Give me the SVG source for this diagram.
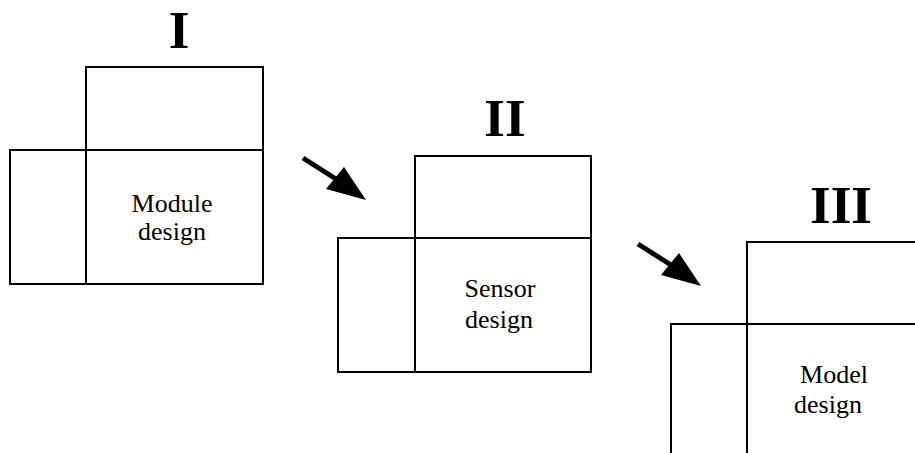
<svg xmlns="http://www.w3.org/2000/svg" width="915" height="453" viewBox="0 0 915 453">
<style>
.box{fill:none;stroke:#000;stroke-width:2}
.num{font-family:"Liberation Serif","Times New Roman",serif;font-weight:bold;font-size:53px;text-anchor:middle;fill:#000}
.lbl{font-family:"Liberation Serif","Times New Roman",serif;font-size:26px;text-anchor:middle;fill:#000}
.shaft{stroke:#000;stroke-width:5;fill:none}
.head{fill:#000}
</style>
<rect width="915" height="453" fill="#fff"/>
<g id="stage1">
<text class="num" x="179" y="47.5">I</text>
<rect class="box" x="86" y="67" width="177" height="83"/>
<rect class="box" x="10" y="150" width="76" height="134"/>
<rect class="box" x="86" y="150" width="177" height="134"/>
<text class="lbl" x="172" y="212">Module</text>
<text class="lbl" x="172" y="240">design</text>
</g>
<g id="stage2">
<text class="num" x="505" y="136">II</text>
<rect class="box" x="415" y="156" width="176" height="82"/>
<rect class="box" x="338" y="238" width="77" height="134"/>
<rect class="box" x="415" y="238" width="176" height="134"/>
<text class="lbl" x="500" y="297">Sensor</text>
<text class="lbl" x="499" y="328">design</text>
</g>
<g id="stage3">
<text class="num" x="841" y="223">III</text>
<rect class="box" x="747" y="242" width="200" height="82"/>
<rect class="box" x="671" y="324" width="76" height="160"/>
<rect class="box" x="747" y="324" width="200" height="160"/>
<text class="lbl" x="834" y="383">Model</text>
<text class="lbl" x="828" y="413">design</text>
</g>
<g id="connectors">
<g id="arrow1">
<line class="shaft" x1="303" y1="158" x2="336" y2="179"/>
<polygon class="head" points="366,200 326,189 344,167"/>
</g>
<g id="arrow2" transform="translate(335,86)">
<line class="shaft" x1="303" y1="158" x2="336" y2="179"/>
<polygon class="head" points="366,200 326,189 344,167"/>
</g>
</g>
</svg>
